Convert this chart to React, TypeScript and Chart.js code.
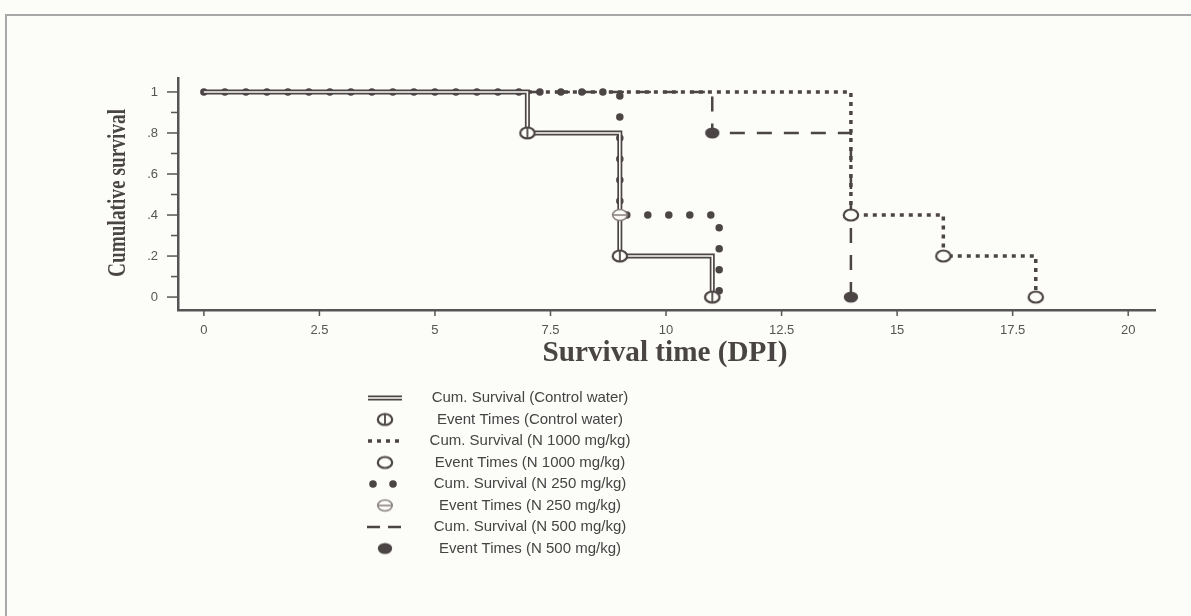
import React, { useEffect, useRef } from 'react';
import { Chart, registerables } from 'chart.js';

Chart.register(...registerables);

// ---------- data ----------
const X_TICKS = [0, 2.5, 5, 7.5, 10, 12.5, 15, 17.5, 20];
const X_TICK_LABELS = ['0', '2.5', '5', '7.5', '10', '12.5', '15', '17.5', '20'];
const Y_TICKS = [0, 0.2, 0.4, 0.6, 0.8, 1];
const Y_TICK_LABELS = ['0', '.2', '.4', '.6', '.8', '1'];
const Y_MINOR_TICKS = [0.1, 0.3, 0.5, 0.7, 0.9];

const CONTROL_TIMES = [0, 7, 9, 11];
const CONTROL_SURV = [1, 0.8, 0.2, 0];
const CONTROL_EVENT_TIMES = [7, 9, 11];
const CONTROL_EVENT_SURV = [0.8, 0.2, 0];

const N1000_TIMES = [0, 14, 16, 18];
const N1000_SURV = [1, 0.4, 0.2, 0];
const N1000_EVENT_TIMES = [14, 16, 18];
const N1000_EVENT_SURV = [0.4, 0.2, 0];

const N250_TIMES = [0, 9, 11.15];
const N250_SURV = [1, 0.4, 0];
const N250_EVENT_TIMES = [9, 11];
const N250_EVENT_SURV = [0.4, 0];

const N500_TIMES = [0, 11, 14];
const N500_SURV = [1, 0.8, 0];
const N500_EVENT_TIMES = [11, 14];
const N500_EVENT_SURV = [0.8, 0];

const LEGEND_LABELS = [
  'Cum. Survival (Control water)',
  'Event Times (Control water)',
  'Cum. Survival (N 1000 mg/kg)',
  'Event Times (N 1000 mg/kg)',
  'Cum. Survival (N 250 mg/kg)',
  'Event Times (N 250 mg/kg)',
  'Cum. Survival (N 500 mg/kg)',
  'Event Times (N 500 mg/kg)',
];

const X_TITLE = 'Survival time (DPI)';
const Y_TITLE = 'Cumulative survival';

// ---------- styles ----------
const INK = '#4c4545';
const BG = '#fcfcf9';

const zip = (xs: number[], ys: number[]) => xs.map((x, i) => ({ x, y: ys[i] }));

function makeMarker(kind: string): HTMLCanvasElement {
  const c = document.createElement('canvas');
  c.width = 20;
  c.height = 16;
  const ctx = c.getContext('2d')!;
  ctx.beginPath();
  ctx.ellipse(10, 8, 7.2, 5.5, 0, 0, Math.PI * 2);
  if (kind === 'filled') {
    ctx.fillStyle = INK;
    ctx.fill();
    return c;
  }
  ctx.fillStyle = BG;
  ctx.fill();
  ctx.lineWidth = kind === 'theta' ? 1.6 : 2.2;
  ctx.strokeStyle = kind === 'theta' ? '#8a8282' : INK;
  ctx.stroke();
  if (kind === 'phi') {
    ctx.beginPath();
    ctx.moveTo(10, 2);
    ctx.lineTo(10, 14);
    ctx.lineWidth = 1.8;
    ctx.stroke();
  } else if (kind === 'theta') {
    ctx.beginPath();
    ctx.moveTo(3, 8);
    ctx.lineTo(17, 8);
    ctx.stroke();
  }
  return c;
}

export default function App() {
  const ref = useRef<HTMLCanvasElement | null>(null);

  useEffect(() => {
    const canvas = ref.current;
    if (!canvas) return;
    const phi = makeMarker('phi');
    const open = makeMarker('open');
    const theta = makeMarker('theta');
    const filled = makeMarker('filled');

    const lineBase = {
      type: 'line' as const,
      stepped: 'before' as const,
      pointRadius: 0,
      fill: false,
      tension: 0,
      showLine: true,
    };
    const markerBase = {
      type: 'line' as const,
      showLine: false,
      pointRadius: 6,
      order: 0,
    };

    const decor = {
      id: 'decor',
      beforeDraw(chart: any) {
        const ctx = chart.ctx;
        ctx.save();
        ctx.fillStyle = BG;
        ctx.fillRect(0, 0, chart.width, chart.height);
        ctx.strokeStyle = '#a8a8a8';
        ctx.lineWidth = 2;
        ctx.beginPath();
        ctx.moveTo(6, chart.height);
        ctx.lineTo(6, 15);
        ctx.lineTo(chart.width, 15);
        ctx.stroke();
        ctx.restore();
      },
      afterDraw(chart: any) {
        const ctx = chart.ctx;
        const xs = chart.scales.x;
        const ys = chart.scales.y;
        const area = chart.chartArea;
        ctx.save();
        ctx.strokeStyle = '#555';
        ctx.lineWidth = 1.5;
        // y ticks
        Y_TICKS.forEach((v) => {
          const py = ys.getPixelForValue(v);
          ctx.beginPath();
          ctx.moveTo(area.left - 11, py);
          ctx.lineTo(area.left, py);
          ctx.stroke();
        });
        Y_MINOR_TICKS.forEach((v) => {
          const py = ys.getPixelForValue(v);
          ctx.beginPath();
          ctx.moveTo(area.left - 7, py);
          ctx.lineTo(area.left, py);
          ctx.stroke();
        });
        // x ticks
        X_TICKS.forEach((v) => {
          const px = xs.getPixelForValue(v);
          ctx.beginPath();
          ctx.moveTo(px, area.bottom);
          ctx.lineTo(px, area.bottom + 6);
          ctx.stroke();
        });

        // y title (condensed serif)
        ctx.fillStyle = '#4a4545';
        ctx.font = 'bold 26px "Liberation Serif"';
        const yw = ctx.measureText(Y_TITLE).width;
        ctx.save();
        ctx.translate(118, 193);
        ctx.rotate(-Math.PI / 2);
        ctx.scale(168 / yw, 1);
        ctx.textAlign = 'center';
        ctx.textBaseline = 'middle';
        ctx.fillText(Y_TITLE, 0, 0);
        ctx.restore();

        // x title
        ctx.font = 'bold 22px "Liberation Serif"';
        const xw = ctx.measureText(X_TITLE).width;
        const fs = 22 * 245 / xw;
        ctx.font = `bold ${fs.toFixed(1)}px "Liberation Serif"`;
        ctx.textAlign = 'center';
        ctx.textBaseline = 'middle';
        ctx.fillText(X_TITLE, 665, 353);

        // legend
        const y0 = 398;
        const dy = 21.5;
        const sx = 385;
        LEGEND_LABELS.forEach((label, i) => {
          const y = y0 + i * dy;
          ctx.save();
          ctx.setLineDash([]);
          if (i === 0) {
            ctx.strokeStyle = INK;
            ctx.lineWidth = 5;
            ctx.beginPath(); ctx.moveTo(368, y); ctx.lineTo(402, y); ctx.stroke();
            ctx.strokeStyle = BG;
            ctx.lineWidth = 1.6;
            ctx.beginPath(); ctx.moveTo(368, y); ctx.lineTo(402, y); ctx.stroke();
          } else if (i === 1) {
            ctx.drawImage(phi, sx - 10, y - 8);
          } else if (i === 2) {
            ctx.strokeStyle = INK;
            ctx.lineWidth = 3.5;
            ctx.setLineDash([4, 5]);
            ctx.beginPath(); ctx.moveTo(368, y); ctx.lineTo(402, y); ctx.stroke();
          } else if (i === 3) {
            ctx.drawImage(open, sx - 10, y - 8);
          } else if (i === 4) {
            ctx.fillStyle = INK;
            [373, 393].forEach((cx) => {
              ctx.beginPath(); ctx.arc(cx, y, 3.8, 0, Math.PI * 2); ctx.fill();
            });
          } else if (i === 5) {
            ctx.drawImage(theta, sx - 10, y - 8);
          } else if (i === 6) {
            ctx.strokeStyle = INK;
            ctx.lineWidth = 2.4;
            ctx.beginPath(); ctx.moveTo(367, y); ctx.lineTo(380, y); ctx.moveTo(388, y); ctx.lineTo(401, y); ctx.stroke();
          } else if (i === 7) {
            ctx.drawImage(filled, sx - 10, y - 8);
          }
          ctx.restore();
          ctx.fillStyle = '#444';
          ctx.font = '15px "Liberation Sans"';
          ctx.textAlign = 'center';
          ctx.textBaseline = 'middle';
          ctx.fillText(label, 530, y);
        });
        ctx.restore();
      },
    };

    const chart = new Chart(canvas, {
      type: 'line',
      data: {
        datasets: [
          { ...markerBase, label: 'Event Times (Control water)', data: zip(CONTROL_EVENT_TIMES, CONTROL_EVENT_SURV), pointStyle: phi as any },
          { ...markerBase, label: 'Event Times (N 1000 mg/kg)', data: zip(N1000_EVENT_TIMES, N1000_EVENT_SURV), pointStyle: open as any },
          { ...markerBase, label: 'Event Times (N 250 mg/kg)', data: zip(N250_EVENT_TIMES, N250_EVENT_SURV), pointStyle: theta as any },
          { ...markerBase, label: 'Event Times (N 500 mg/kg)', data: zip(N500_EVENT_TIMES, N500_EVENT_SURV), pointStyle: filled as any },
          { ...lineBase, order: 1, label: 'Cum. Survival (Control water) inner', data: zip(CONTROL_TIMES, CONTROL_SURV), borderColor: BG, borderWidth: 1.6 },
          { ...lineBase, order: 2, label: 'Cum. Survival (Control water)', data: zip(CONTROL_TIMES, CONTROL_SURV), borderColor: INK, borderWidth: 5 },
          { ...lineBase, order: 3, label: 'Cum. Survival (N 250 mg/kg)', data: zip(N250_TIMES, N250_SURV), borderColor: INK, borderWidth: 7.5, borderDash: [0, 21], borderCapStyle: 'round' },
          { ...lineBase, order: 4, label: 'Cum. Survival (N 1000 mg/kg)', data: zip(N1000_TIMES, N1000_SURV), borderColor: INK, borderWidth: 3.5, borderDash: [4, 5] },
          { ...lineBase, order: 5, label: 'Cum. Survival (N 500 mg/kg)', data: zip(N500_TIMES, N500_SURV), borderColor: INK, borderWidth: 2.5, borderDash: [15, 12] },
        ],
      },
      options: {
        animation: false,
        responsive: false,
        maintainAspectRatio: false,
        layout: { padding: { left: 0, top: 78, right: 36, bottom: 246 } },
        plugins: {
          legend: { display: false },
          tooltip: { enabled: false },
        },
        scales: {
          x: {
            type: 'linear',
            min: -0.56,
            max: 20.58,
            afterFit: (s: any) => { s.height = 60; },
            afterBuildTicks: (s: any) => { s.ticks = X_TICKS.map((v) => ({ value: v })); },
            ticks: {
              autoSkip: false,
              maxRotation: 0,
              padding: 13,
              color: '#555',
              font: { family: '"Liberation Sans"', size: 13 },
              callback: (v: any) => { const i = X_TICKS.indexOf(Number(v)); return i >= 0 ? X_TICK_LABELS[i] : ''; },
            },
            grid: { display: false, drawTicks: false },
            border: { display: true, color: '#555', width: 2.5 },
          },
          y: {
            type: 'linear',
            min: -0.063,
            max: 1.068,
            afterFit: (s: any) => { s.width = 178; },
            afterBuildTicks: (s: any) => { s.ticks = Y_TICKS.map((v) => ({ value: v })); },
            ticks: {
              autoSkip: false,
              padding: 20,
              color: '#555',
              font: { family: '"Liberation Sans"', size: 13 },
              callback: (v: any) => { const i = Y_TICKS.indexOf(Number(v)); return i >= 0 ? Y_TICK_LABELS[i] : ''; },
            },
            grid: { display: false, drawTicks: false },
            border: { display: true, color: '#555', width: 2.5 },
          },
        },
      },
      plugins: [decor],
    } as any);

    return () => chart.destroy();
  }, []);

  return (
    <div style={{ position: 'absolute', left: 0, top: 0, width: 1191, height: 616, background: BG }}>
      <canvas ref={ref} width={1191} height={616} style={{ display: 'block' }} />
    </div>
  );
}
